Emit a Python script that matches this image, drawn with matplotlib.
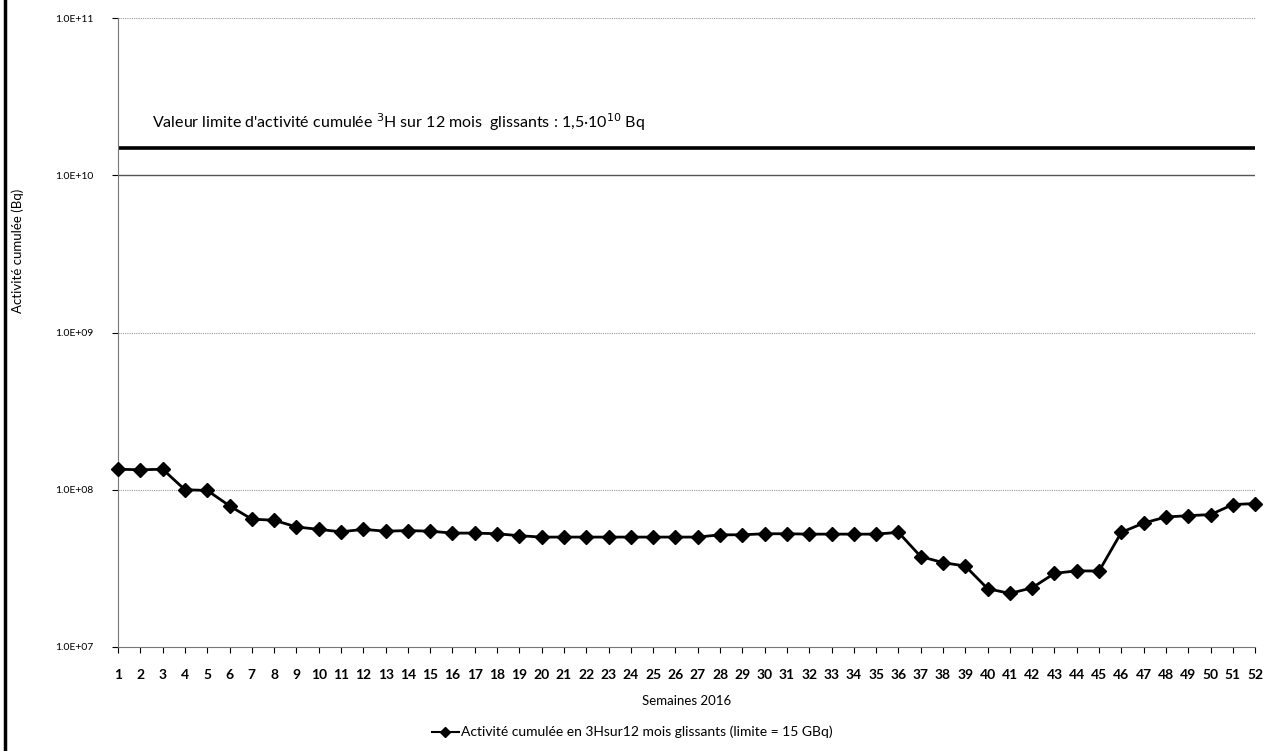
import numpy as np
import matplotlib
matplotlib.use("Agg")
from matplotlib import pyplot as plt
from matplotlib.lines import Line2D

plt.rcParams["font.family"] = ["Lato", "DejaVu Sans"]

# weekly cumulated activity (Bq)
weeks = list(range(1, 53))
activity = [
    1.35e8, 1.34e8, 1.35e8, 1.00e8, 0.99e8, 7.9e7, 6.5e7, 6.4e7, 5.8e7, 5.6e7,
    5.4e7, 5.6e7, 5.45e7, 5.5e7, 5.45e7, 5.3e7, 5.3e7, 5.25e7, 5.1e7, 5.0e7,
    5.0e7, 5.0e7, 5.0e7, 5.0e7, 5.0e7, 5.0e7, 5.0e7, 5.17e7, 5.17e7, 5.25e7,
    5.25e7, 5.22e7, 5.22e7, 5.22e7, 5.22e7, 5.36e7, 3.76e7, 3.44e7, 3.27e7, 2.35e7,
    2.19e7, 2.38e7, 2.94e7, 3.05e7, 3.04e7, 5.36e7, 6.14e7, 6.71e7, 6.84e7, 6.95e7,
    8.05e7, 8.17e7,
]
limit_value = 1.5e10
y_ticks = [1e7, 1e8, 1e9, 1e10, 1e11]
y_tick_labels = ["1.0E+07", "1.0E+08", "1.0E+09", "1.0E+10", "1.0E+11"]

limit_text = "Valeur limite d'activité cumulée $^{3}$H sur 12 mois  glissants : 1,5·10$^{10}$ Bq"
series_label = "Activité cumulée en 3Hsur12 mois glissants (limite = 15 GBq)"

fig = plt.figure(figsize=(12.64, 7.51), dpi=100)
ax = fig.add_axes([0.0934, 0.1385, 0.8996, 0.8375])

ax.set_yscale("log")
ax.set_ylim(1e7, 1e11)
ax.set_xlim(1, 52)

for yv in y_ticks[1:]:
    ax.axhline(yv, color="#555555" if yv == 1e10 else "#999999",
               lw=1.0 if yv == 1e10 else 0.8,
               ls="-" if yv == 1e10 else (0, (1, 1)), zorder=1)

ax.axhline(limit_value, color="black", lw=2.6, zorder=2)
ax.text(2.5, 1.85e10, limit_text, fontsize=11.5, va="bottom", ha="left")

ax.plot(weeks, activity, "-", color="black", lw=2.0, marker="D",
        markersize=7, zorder=3, clip_on=False)

ax.set_yticks(y_ticks)
ax.set_yticklabels(y_tick_labels, fontsize=7.5)
ax.yaxis.set_minor_locator(matplotlib.ticker.NullLocator())
ax.set_xticks(weeks)
ax.set_xticklabels([str(w) for w in weeks], fontsize=10, fontweight="bold")
ax.tick_params(axis="x", length=4, pad=12)
ax.tick_params(axis="y", length=4, pad=14)

for side in ["top", "right"]:
    ax.spines[side].set_visible(False)
ax.spines["bottom"].set_color("#777777")
ax.spines["left"].set_color("#777777")

ax.set_xlabel("Semaines 2016", fontsize=9.5, labelpad=10)
ax.set_ylabel("Activité cumulée (Bq)", fontsize=9.5)
ax.yaxis.set_label_coords(-0.083, 0.63)

handle = Line2D([], [], color="black", lw=1.5, marker="D", markersize=5)
fig.legend([handle], [series_label], loc="lower center",
           bbox_to_anchor=(0.5, 0.0), frameon=False, fontsize=10,
           handlelength=2.0, handletextpad=0.1)

# scanned page border on the left
fig.add_artist(Line2D([0.004, 0.004], [0.0, 1.0], color="black", lw=2.5,
                      transform=fig.transFigure))

fig.savefig("out.png", dpi=100)
plt.close(fig)
